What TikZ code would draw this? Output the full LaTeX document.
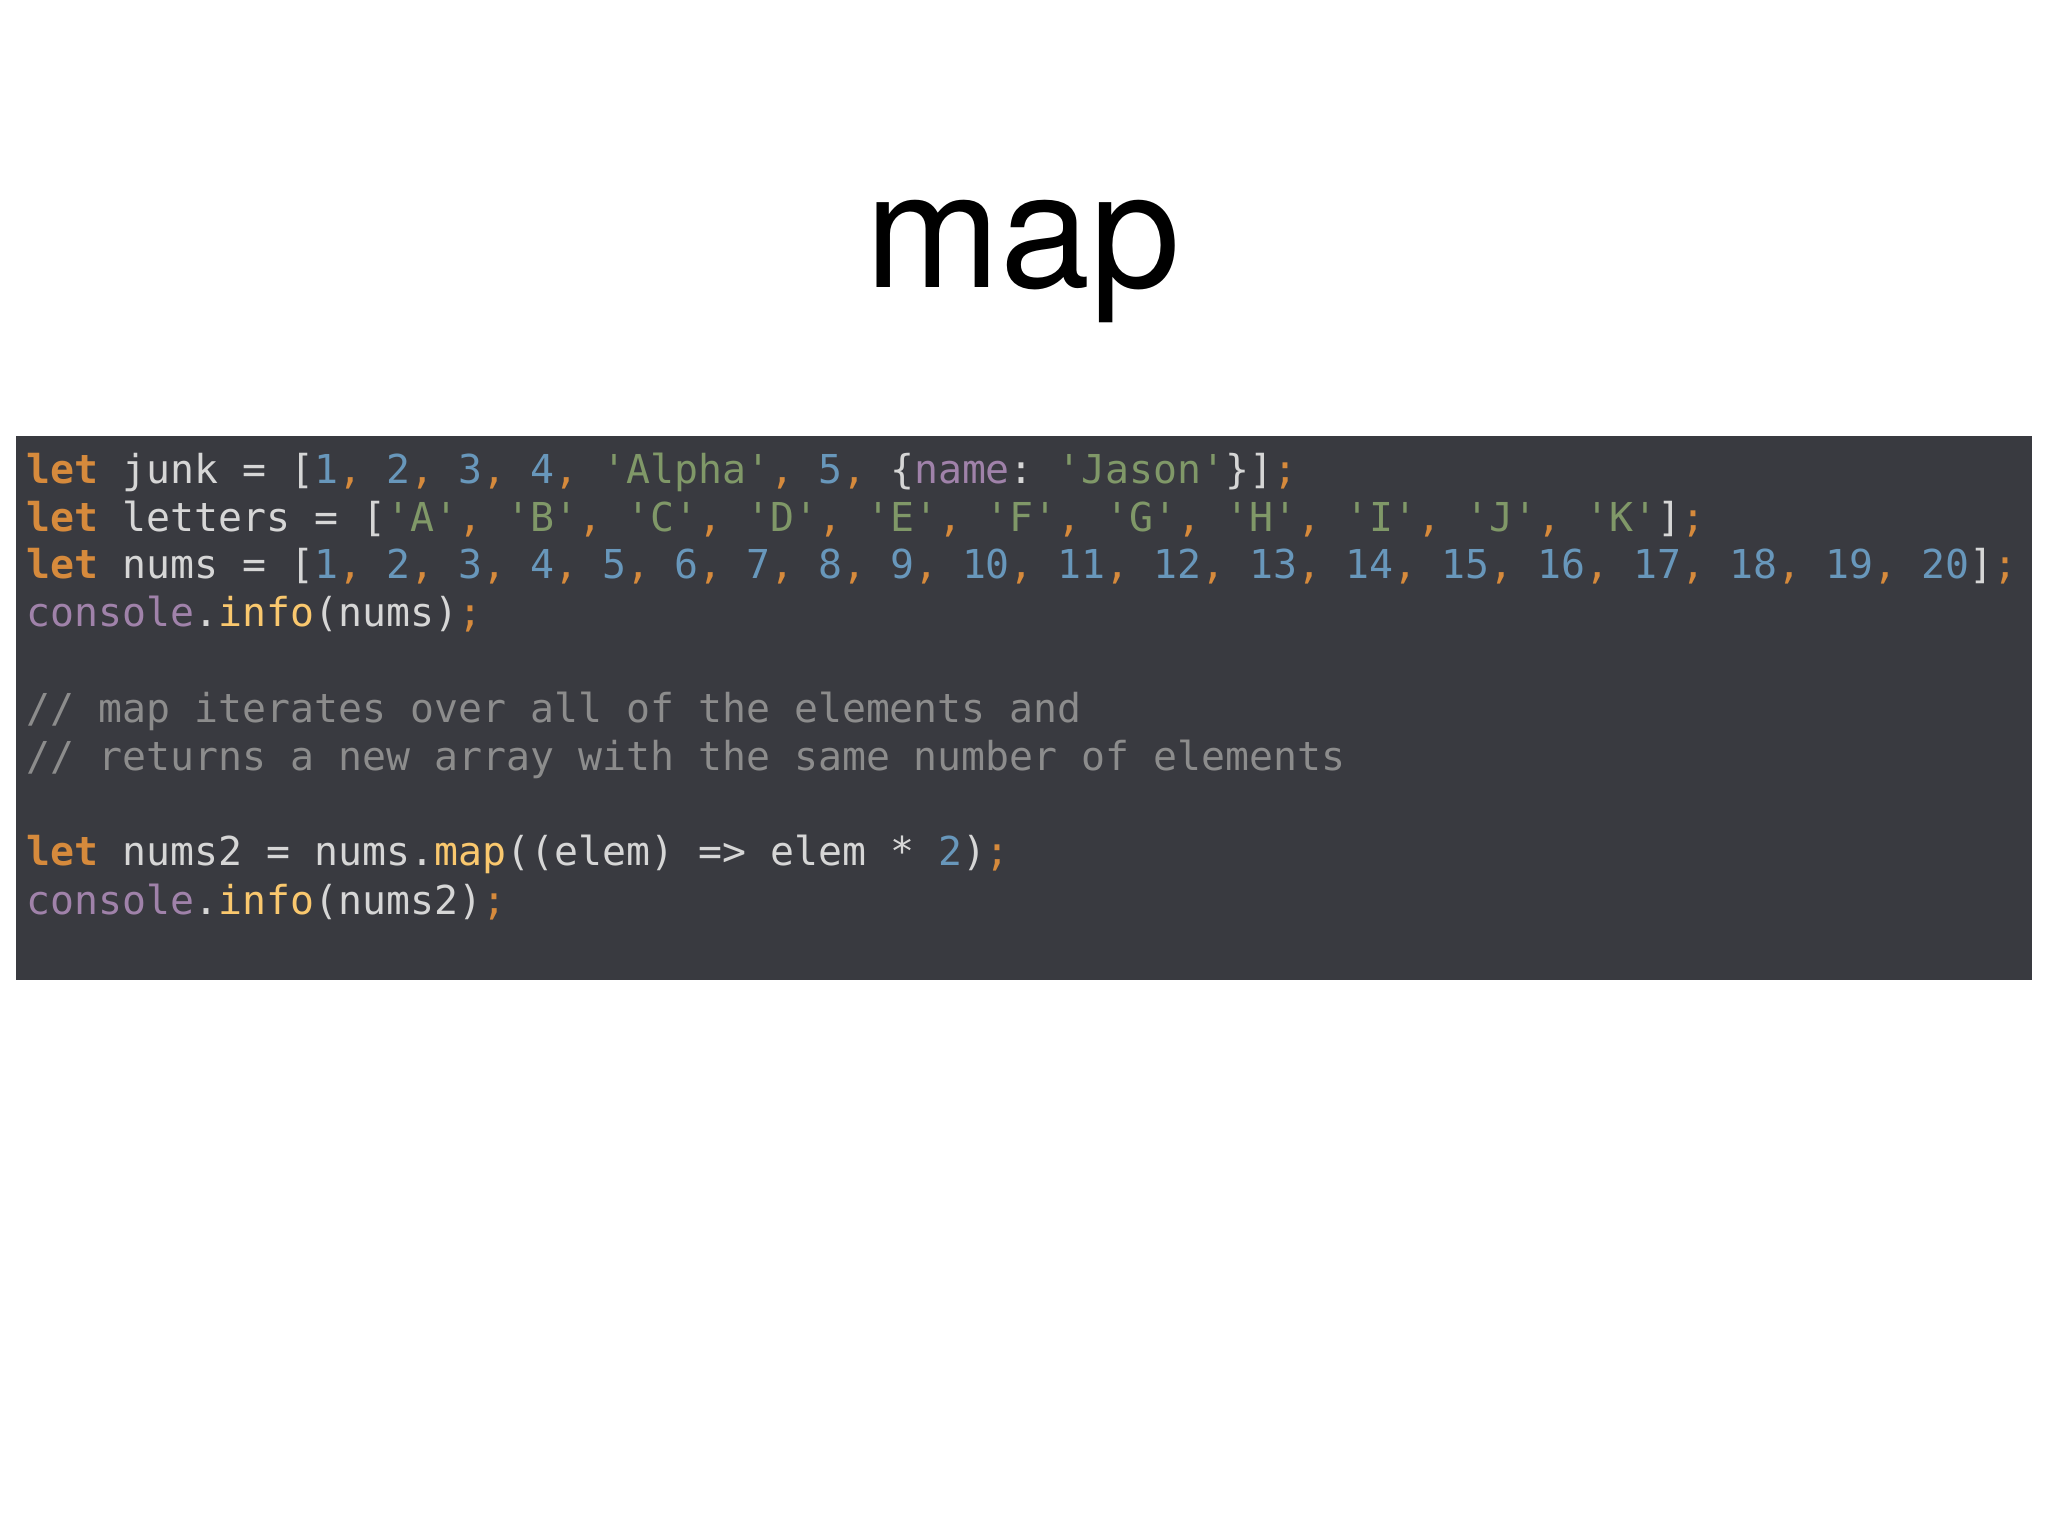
\documentclass[tikz,border=0pt]{standalone}
\usepackage{fontspec}
\setmainfont{TeX Gyre Heros}
\setmonofont{DejaVu Sans Mono}
\definecolor{codebg}{RGB}{57,58,64}
\definecolor{codefg}{RGB}{214,214,214}
\definecolor{kwcol}{RGB}{214,138,60}
\definecolor{numcol}{RGB}{104,151,187}
\definecolor{strcol}{RGB}{128,152,104}
\definecolor{purcol}{RGB}{160,130,170}
\definecolor{fncol}{RGB}{250,200,110}
\definecolor{cmtcol}{RGB}{140,140,140}
\newcommand\kw[1]{\textcolor{kwcol}{\bfseries #1}}
\newcommand\nm[1]{\textcolor{numcol}{#1}}
\newcommand\str[1]{\textcolor{strcol}{#1}}
\newcommand\pu[1]{\textcolor{purcol}{#1}}
\newcommand\fn[1]{\textcolor{fncol}{#1}}
\newcommand\semi{\textcolor{kwcol}{;}}
\newcommand\cm{\textcolor{kwcol}{,}}
\begin{document}
\begin{tikzpicture}[x=0.5pt,y=0.5pt,yscale=-1,xscale=1,
  codeline/.style={anchor=base west,inner sep=0pt,text=codefg,
    font=\ttfamily\fontsize{15.25}{18}\selectfont}]
\useasboundingbox (0,0) rectangle (1568,1176);

% title
\node (title) at (783,200) [font=\fontsize{62}{70}\selectfont] {map};

% code panel
\fill [codebg] (12,334) rectangle (1556,750);

% code lines
\node (l1) [codeline] at (20,370) {\kw{let} junk = [\nm{1}\cm{} \nm{2}\cm{} \nm{3}\cm{} \nm{4}\cm{} \str{'Alpha'}\cm{} \nm{5}\cm{} \{\pu{name}: \str{'Jason'}\}]\semi};
\node (l2) [codeline] at (20,407) {\kw{let} letters = [\str{'A'}\cm{} \str{'B'}\cm{} \str{'C'}\cm{} \str{'D'}\cm{} \str{'E'}\cm{} \str{'F'}\cm{} \str{'G'}\cm{} \str{'H'}\cm{} \str{'I'}\cm{} \str{'J'}\cm{} \str{'K'}]\semi};
\node (l3) [codeline] at (20,443) {\kw{let} nums = [\nm{1}\cm{} \nm{2}\cm{} \nm{3}\cm{} \nm{4}\cm{} \nm{5}\cm{} \nm{6}\cm{} \nm{7}\cm{} \nm{8}\cm{} \nm{9}\cm{} \nm{10}\cm{} \nm{11}\cm{} \nm{12}\cm{} \nm{13}\cm{} \nm{14}\cm{} \nm{15}\cm{} \nm{16}\cm{} \nm{17}\cm{} \nm{18}\cm{} \nm{19}\cm{} \nm{20}]\semi};
\node (l4) [codeline] at (20,480) {\pu{console}.\fn{info}(nums)\semi};
\node (l5) [codeline,text=cmtcol] at (20,553) {// map iterates over all of the elements and};
\node (l6) [codeline,text=cmtcol] at (20,590) {// returns a new array with the same number of elements};
\node (l7) [codeline] at (20,663) {\kw{let} nums2 = nums.\fn{map}((elem) => elem * \nm{2})\semi};
\node (l8) [codeline] at (20,700) {\pu{console}.\fn{info}(nums2)\semi};

\end{tikzpicture}
\end{document}
